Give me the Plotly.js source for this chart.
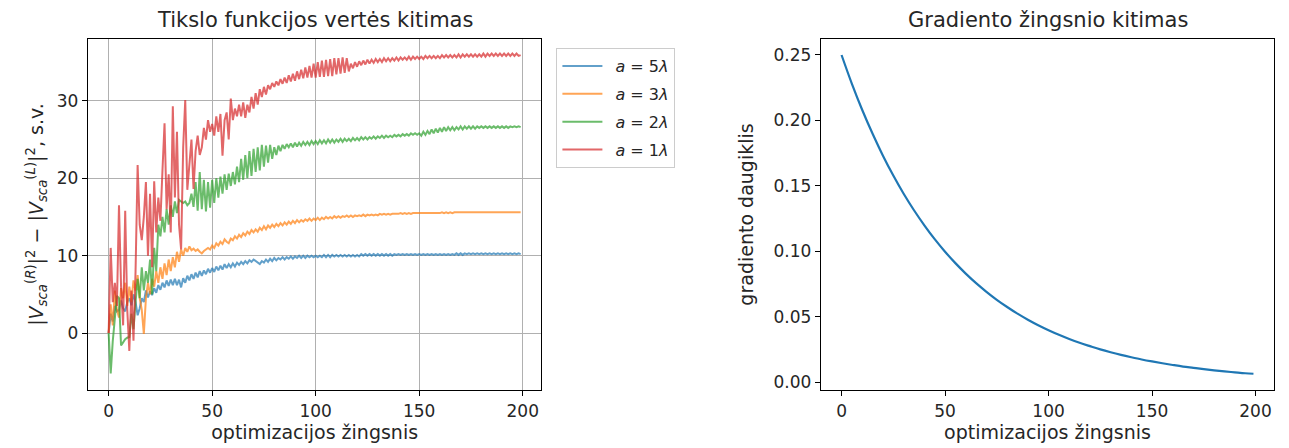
<!DOCTYPE html>
<html>
<head>
<meta charset="utf-8">
<script src="https://cdn.plot.ly/plotly-3.0.1.min.js"></script>
<style>html,body{margin:0;padding:0;background:#fff;}#chart{width:1289px;height:448px;}</style>
</head>
<body>
<div id="chart"></div>
<script>
// ---- data ----
const seriesNames = ["\u2002<i>a</i> = 5<i>λ</i>", "\u2002<i>a</i> = 3<i>λ</i>", "\u2002<i>a</i> = 2<i>λ</i>", "\u2002<i>a</i> = 1<i>λ</i>"];
const seriesColors = ["#1f77b4", "#ff7f0e", "#2ca02c", "#d62728"];

const valA5 = [
0.0,2.5,1.5,3.5,2.8,3.0,4.2,3.2,2.8,4.0,
4.5,3.6,5.0,4.0,2.3,3.2,4.5,4.0,5.5,4.6,
5.4,4.9,5.8,5.2,6.2,5.6,6.5,5.9,6.8,6.1,
6.9,6.2,7.0,6.2,6.9,5.9,7.1,6.5,7.4,6.8,
7.6,7.0,7.8,7.2,8.0,7.4,8.1,7.6,8.3,7.8,
8.4,7.9,8.6,8.1,8.7,8.2,8.9,8.4,8.9,8.5,
9.0,8.6,9.1,8.8,9.2,8.9,9.3,9.0,9.4,9.2,
9.5,9.3,9.0,8.9,9.3,9.1,9.5,9.2,9.6,9.3,
9.7,9.4,9.7,9.5,9.8,9.5,9.8,9.6,9.9,9.6,
9.9,9.7,10.0,9.7,10.0,9.7,10.0,9.8,10.0,9.8,
10.0,9.8,10.0,9.8,10.1,9.8,10.1,9.8,10.1,9.9,
10.1,9.9,10.1,9.9,10.1,9.9,10.1,9.9,10.1,9.9,
10.1,9.9,10.2,10.0,10.2,10.0,10.2,10.0,10.2,10.0,
10.2,10.0,10.2,10.0,10.2,10.0,10.2,10.0,10.2,10.1,
10.2,10.1,10.2,10.1,10.2,10.1,10.2,10.1,10.2,10.1,
10.2,10.1,10.2,10.1,10.2,10.1,10.2,10.1,10.2,10.1,
10.2,10.1,10.2,10.1,10.2,10.1,10.2,10.1,10.3,10.1,
10.3,10.1,10.3,10.2,10.3,10.2,10.3,10.2,10.3,10.2,
10.3,10.2,10.3,10.2,10.3,10.2,10.3,10.2,10.3,10.2,
10.3,10.2,10.3,10.2,10.3,10.2,10.3,10.2,10.3,10.2
];

const valA3 = [
0.0,3.7,1.0,5.5,3.0,2.0,5.8,4.5,6.5,3.5,
6.0,4.0,6.8,5.5,7.5,4.5,3.0,-0.1,4.5,6.5,
5.0,7.0,6.0,8.0,6.5,8.5,7.0,9.0,7.5,9.5,
8.0,9.8,8.5,10.5,9.2,10.8,10.0,11.0,10.5,11.2,
10.7,10.9,10.6,10.8,10.5,10.3,10.6,10.8,11.0,10.8,
11.3,11.0,11.6,11.3,11.8,11.5,12.1,11.8,11.6,12.2,
12.0,12.5,12.2,12.7,12.4,12.9,12.6,13.1,12.8,13.3,
13.0,13.4,13.1,13.6,13.3,13.8,13.4,13.9,13.6,14.0,
13.7,14.1,13.8,14.2,13.9,14.3,14.0,14.4,14.1,14.5,
14.2,14.6,14.3,14.6,14.4,14.7,14.5,14.8,14.5,14.8,
14.6,14.9,14.6,14.9,14.7,15.0,14.8,15.0,14.8,15.1,
14.9,15.1,14.9,15.1,15.0,15.2,15.0,15.2,15.0,15.2,
15.1,15.2,15.1,15.3,15.1,15.3,15.2,15.3,15.2,15.3,
15.2,15.4,15.3,15.4,15.3,15.4,15.3,15.4,15.4,15.4,
15.4,15.5,15.4,15.5,15.4,15.5,15.4,15.5,15.5,15.5,
15.5,15.5,15.5,15.5,15.5,15.5,15.5,15.5,15.5,15.5,
15.5,15.6,15.5,15.6,15.5,15.6,15.5,15.6,15.6,15.6,
15.6,15.6,15.6,15.6,15.6,15.6,15.6,15.6,15.6,15.6,
15.6,15.6,15.6,15.6,15.6,15.6,15.6,15.6,15.6,15.6,
15.6,15.6,15.6,15.6,15.6,15.6,15.6,15.6,15.6,15.6
];

const valA2 = [
0.0,-5.2,-1.0,1.5,4.8,4.5,-1.6,-1.2,-0.8,-0.6,
-0.5,2.5,0.5,4.0,7.0,4.5,8.5,5.5,8.0,6.5,
9.5,5.0,11.0,8.0,14.0,12.5,15.0,13.0,16.0,14.0,
16.5,15.0,17.0,15.5,17.2,17.0,16.8,17.0,16.5,16.8,
18.0,16.3,19.5,15.8,20.8,16.0,19.8,15.7,19.5,16.2,
19.8,16.8,20.0,17.5,20.2,18.0,20.5,18.5,20.6,19.0,
20.8,19.2,21.5,19.5,22.5,19.8,23.0,20.0,23.5,20.3,
23.8,20.8,24.0,21.0,24.3,21.5,24.2,22.0,24.3,22.5,
24.0,23.0,24.2,23.5,24.3,23.8,24.4,24.0,24.5,24.0,
24.6,24.1,24.6,24.2,24.7,24.3,24.7,24.3,24.8,24.4,
24.8,24.4,24.9,24.5,24.9,24.5,25.0,24.6,25.0,24.6,
25.0,24.7,25.1,24.7,25.1,24.8,25.1,24.8,25.2,24.9,
25.2,24.9,25.3,25.0,25.3,25.0,25.3,25.1,25.4,25.1,
25.4,25.2,25.5,25.2,25.5,25.3,25.5,25.3,25.6,25.4,
25.6,25.4,25.7,25.5,25.7,25.5,25.8,25.6,25.8,25.6,
25.8,25.5,26.0,25.6,26.1,25.7,26.3,25.8,26.4,25.9,
26.5,26.0,26.6,26.1,26.6,26.2,26.6,26.2,26.6,26.3,
26.7,26.3,26.7,26.4,26.7,26.4,26.7,26.4,26.7,26.5,
26.7,26.5,26.7,26.5,26.7,26.5,26.7,26.5,26.7,26.5,
26.7,26.5,26.7,26.5,26.7,26.6,26.7,26.6,26.7,26.6
];

const valA1 = [
0.0,11.0,4.0,6.5,3.5,16.5,6.0,1.0,15.8,3.0,
-2.3,5.5,-1.0,8.0,21.7,14.0,12.0,15.0,19.5,10.0,
18.0,8.5,19.6,13.0,17.5,14.5,21.0,27.1,16.0,20.5,
13.0,29.3,17.5,26.0,14.0,10.8,24.0,30.1,18.5,22.0,
25.0,18.6,23.5,25.5,23.0,24.0,26.5,25.0,27.5,26.0,
27.0,25.5,28.0,26.0,28.3,22.9,27.5,28.5,25.0,30.3,
27.5,29.0,28.0,29.5,28.0,29.8,27.8,29.5,28.5,30.5,
29.0,31.0,29.5,31.5,30.5,31.8,30.8,32.0,31.5,32.3,
31.8,32.5,32.0,32.8,32.2,33.0,32.3,33.3,32.5,33.5,
32.6,33.8,32.8,34.0,32.9,34.3,33.0,34.5,33.0,34.8,
33.0,35.0,33.1,35.2,33.1,35.3,33.2,35.4,33.2,35.5,
33.4,35.5,33.5,35.6,33.6,35.5,33.8,34.8,34.2,35.0,
34.4,35.1,34.6,35.2,34.7,35.3,34.8,35.3,34.9,35.4,
35.0,35.4,35.0,35.5,35.1,35.5,35.1,35.5,35.2,35.6,
35.2,35.6,35.3,35.6,35.3,35.7,35.3,35.7,35.4,35.7,
35.4,35.7,35.4,35.8,35.5,35.8,35.5,35.8,35.5,35.8,
35.5,35.9,35.6,35.9,35.6,35.9,35.6,35.9,35.6,36.0,
35.6,36.0,35.7,36.0,35.7,36.0,35.7,36.0,35.7,36.0,
35.7,36.1,35.7,36.1,35.8,36.1,35.8,36.1,35.8,36.1,
35.8,36.1,35.8,36.1,35.8,36.1,35.8,36.1,35.8,35.9
];

// gradient multiplier, read every 5 steps
const gradSteps = [0,5,10,15,20,25,30,35,40,45,50,55,60,65,70,75,80,85,90,95,100,
  105,110,115,120,125,130,135,140,145,150,155,160,165,170,175,180,185,190,195,199];
const gradValues = [0.2500,0.2280,0.2080,0.1898,0.1731,0.1579,0.1440,0.1314,0.1199,0.1093,0.0997,
  0.0910,0.0830,0.0757,0.0691,0.0630,0.0575,0.0524,0.0478,0.0436,0.0398,
  0.0363,0.0331,0.0302,0.0276,0.0251,0.0229,0.0209,0.0191,0.0174,0.0159,
  0.0145,0.0132,0.0120,0.0110,0.0100,0.0091,0.0083,0.0076,0.0069,0.0065];

const xTicks = [0,50,100,150,200];
const yTicksLeft = [0,10,20,30];
const yTicksRight = [0,0.05,0.10,0.15,0.20,0.25];

// ---- build ----
const allSeries = [valA5, valA3, valA2, valA1];
const steps = valA5.map((_, i) => i);
const FONT = "DejaVu Sans, sans-serif";
const TXT = "#262626";

const traces = allSeries.map((vals, k) => ({
  x: steps, y: vals, type: "scatter", mode: "lines",
  name: seriesNames[k], legendgroup: "g" + k,
  line: {color: seriesColors[k], width: 2},
  opacity: 0.7, xaxis: "x", yaxis: "y"
}));
traces.push({
  x: gradSteps, y: gradValues, type: "scatter", mode: "lines",
  line: {color: "#1f77b4", width: 2.2, shape: "spline", smoothing: 1},
  showlegend: false, xaxis: "x2", yaxis: "y2"
});

const axCommon = {
  showline: true, mirror: true, linecolor: "#000", linewidth: 1.2,
  ticks: "outside", ticklen: 5, tickcolor: "#000", tickwidth: 1,
  zeroline: false, tickfont: {family: FONT, size: 17, color: TXT}
};
const titleFont = {family: FONT, size: 19, color: TXT};

const layout = {
  width: 1289, height: 448,
  margin: {l: 0, r: 0, t: 0, b: 0},
  paper_bgcolor: "#fff", plot_bgcolor: "#fff",
  font: {family: FONT, color: TXT},
  showlegend: true,
  legend: {
    x: 0.4315, y: 0.893, xanchor: "left", yanchor: "top",
    bgcolor: "rgba(255,255,255,0.8)", bordercolor: "#cccccc", borderwidth: 1.2,
    font: {family: FONT, size: 16, color: TXT},
    tracegroupgap: 4, itemwidth: 40
  },
  xaxis: Object.assign({}, axCommon, {
    domain: [0.0683, 0.4199], range: [-9.95, 208.95],
    tickvals: xTicks, showgrid: true, gridcolor: "#b0b0b0", gridwidth: 1,
    title: {text: "optimizacijos žingsnis", font: titleFont, standoff: 6},
    anchor: "y"
  }),
  yaxis: Object.assign({}, axCommon, {
    domain: [0.1295, 0.9129], range: [-7.35, 37.98],
    tickvals: yTicksLeft, showgrid: true, gridcolor: "#b0b0b0", gridwidth: 1,
    title: {text: "|<i>V</i><sub><i>sca</i></sub><sup>(<i>R</i>)</sup>|<sup>2</sup> − |<i>V</i><sub><i>sca</i></sub><sup>(<i>L</i>)</sup>|<sup>2</sup>, s.v.",
      font: titleFont, standoff: 8},
    anchor: "x"
  }),
  xaxis2: Object.assign({}, axCommon, {
    domain: [0.6369, 0.9884], range: [-9.95, 208.95],
    tickvals: xTicks, showgrid: false,
    title: {text: "optimizacijos žingsnis", font: titleFont, standoff: 6},
    anchor: "y2"
  }),
  yaxis2: Object.assign({}, axCommon, {
    domain: [0.1295, 0.9129], range: [-0.0059, 0.2622],
    tickvals: yTicksRight, tickformat: ".2f", showgrid: false,
    title: {text: "gradiento daugiklis", font: titleFont, standoff: 14},
    anchor: "x2"
  }),
  annotations: [
    {text: "Tikslo funkcijos vertės kitimas", xref: "paper", yref: "paper",
     x: (0.0683 + 0.4199) / 2, y: 0.9129, yshift: 5, xanchor: "center", yanchor: "bottom",
     showarrow: false, font: {family: FONT, size: 21, color: TXT}},
    {text: "Gradiento žingsnio kitimas", xref: "paper", yref: "paper",
     x: (0.6369 + 0.9884) / 2, y: 0.9129, yshift: 5, xanchor: "center", yanchor: "bottom",
     showarrow: false, font: {family: FONT, size: 21, color: TXT}}
  ]
};

Plotly.newPlot("chart", traces, layout, {displayModeBar: false, staticPlot: true});
</script>
</body>
</html>
